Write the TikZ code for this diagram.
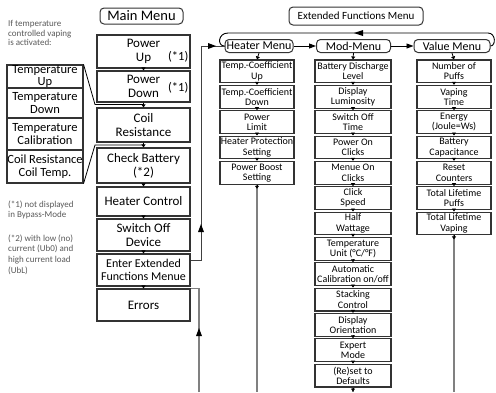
\documentclass[tikz,border=0pt]{standalone}
\usepackage{fontspec}
\setmainfont{Carlito}
\usetikzlibrary{arrows.meta}

\tikzset{
  tinytip/.tip={Triangle[length=3pt,width=4pt,color=black]},
  box/.style={draw=black!80, line width=1.1pt, inner sep=0pt, align=center},
  mainbox/.style={box, minimum width=93, font=\fontsize{13}{14}\selectfont},
  tempbox/.style={box, minimum width=76, font=\fontsize{12.5}{13}\selectfont},
  subbox/.style={box, minimum height=22.8, font=\fontsize{10}{10.3}\selectfont},
  menutitle/.style={draw=black!80, line width=1pt, rounded corners=4pt, inner sep=0pt},
  menuhead/.style={menutitle, minimum height=13, font=\fontsize{12}{13}\selectfont},
  note/.style={anchor=north west, inner sep=0pt, align=left, text=black!65, font=\fontsize{9}{10.6}\selectfont},
  nextarrow/.style={-tinytip, line width=0.8pt},
  headarrow/.style={-{Triangle[length=7pt,width=5pt]}, line width=0.9pt},
  templine/.style={line width=0.8pt},
  backline/.style={draw=black!50, line width=1.2pt},
  linkline/.style={draw=black!75, line width=1pt}
}

\begin{document}
\begin{tikzpicture}[x=1pt,y=-1pt]
  \pgfmathsetmacro{\mainx}{143.5}
  \pgfmathsetmacro{\tempx}{45}
  \pgfmathsetmacro{\heatx}{257}
  \pgfmathsetmacro{\modx}{353}
  \pgfmathsetmacro{\valx}{454}
  \pgfmathsetmacro{\firsty}{71.4}
  \pgfmathsetmacro{\pitch}{25.35}
  \pgfmathsetmacro{\heady}{46}
  \pgfmathsetmacro{\bottomy}{392}
  \useasboundingbox (0,0) rectangle (496,\bottomy);
  % titles
  \node[menutitle, minimum width=83, minimum height=16, font=\fontsize{14.5}{15}\selectfont] (mainmenu) at (141.5,16) {Main Menu};
  \node[menutitle, minimum width=134, minimum height=18, font=\fontsize{11}{12}\selectfont] (extmenu) at (356,16) {Extended Functions Menu};
  % notes
  \node[note, font=\fontsize{9}{9.7}\selectfont] (tempnote) at (8,20) {If temperature\\controlled vaping\\is activated:};
  \node[note] (noteone) at (8,200.5) {(*1) not displayed\\in Bypass-Mode};
  \node[note] (notetwo) at (8,234.5) {(*2) with low (no)\\current (Ub0) and\\high current load\\(UbL)};
  % main menu
  \node[mainbox, minimum height=33] (pu) at (\mainx,51.5) {Power\\Up};
  \node[mainbox, minimum height=31] (pd) at (\mainx,86.5) {Power\\Down};
  \node[mainbox, minimum height=34] (coil) at (\mainx,125) {Coil\\Resistance};
  \node[mainbox, minimum height=35] (check) at (\mainx,165.5) {Check Battery\\(*2)};
  \node[mainbox, minimum height=29] (heatc) at (\mainx,201.5) {Heater Control};
  \node[mainbox, minimum height=32] (swoff) at (\mainx,235) {Switch Off\\Device};
  \node[mainbox, minimum height=32, font=\fontsize{12}{13.5}\selectfont] (enter) at (\mainx,270) {Enter Extended\\Functions Menue};
  \node[mainbox, minimum height=32] (errors) at (\mainx,305) {Errors};
  \node[anchor=east, inner sep=0pt, font=\fontsize{12.5}{13}\selectfont] (putag) at ([xshift=-2pt,yshift=-5pt]pu.east) {(*1)};
  \node[anchor=east, inner sep=0pt, font=\fontsize{12.5}{13}\selectfont] (pdtag) at ([xshift=-2pt,yshift=-1.5pt]pd.east) {(*1)};
  \foreach \a/\b in {pu/pd, pd/coil, coil/check, check/heatc, heatc/swoff, swoff/enter, enter/errors}
    \draw[nextarrow] (\a.south) -- (\b.north);
  % temperature controlled
  \node[tempbox, minimum height=23, font=\fontsize{12.5}{12}\selectfont] (tu) at (\tempx,76.5) {Temperature\\Up};
  \node[tempbox, minimum height=30] (td) at (\tempx,103) {Temperature\\Down};
  \node[tempbox, minimum height=32] (tc) at (\tempx,134) {Temperature\\Calibration};
  \node[tempbox, minimum height=33] (cr) at (\tempx,166.5) {Coil Resistance\\Coil Temp.};
  \coordinate (tin) at (95,104.5);
  \coordinate (tout) at (95,145);
  \draw[templine] (tu.north east) -- (tin) -- (tin -| coil.north);
  \draw[templine] (cr.south east) -- (tout) -- (tout -| check.north);
  % extended functions
  \node[menuhead, minimum width=68] (heater) at (259,\heady) {Heater Menu};
  \node[menuhead, minimum width=74] (modmenu) at (353.5,\heady) {Mod-Menu};
  \node[menuhead, minimum width=76] (valmenu) at (452,\heady) {Value Menu};
  \draw[headarrow] (heater) -- (modmenu);
  \draw[headarrow] (modmenu) -- (valmenu);
  \foreach \txt [count=\i] in {{Temp.-Coefficient\\Up}, {Temp.-Coefficient\\Down}, {Power\\Limit},
      {Heater Protection\\Setting}, {Power Boost\\Setting}}
    \node[subbox, minimum width=74] (heat\i) at (\heatx,{\firsty+(\i-1)*\pitch}) {\txt};
  \foreach \txt [count=\i] in {{Battery Discharge\\Level}, {Display\\Luminosity}, {Switch Off\\Time},
      {Power On\\Clicks}, {Menue On\\Clicks}, {Click\\Speed}, {Half\\Wattage}, {Temperature\\Unit (°C/°F)},
      {Automatic\\Calibration on/off}, {Stacking\\Control}, {Display\\Orientation}, {Expert\\Mode},
      {(Re)set to\\Defaults}}
    \node[subbox, minimum width=76] (mod\i) at (\modx,{\firsty+(\i-1)*\pitch}) {\txt};
  \foreach \txt [count=\i] in {{Number of\\Puffs}, {Vaping\\Time}, {Energy\\(Joule=Ws)}, {Battery\\Capacitance},
      {Reset\\Counters}, {Total Lifetime\\Puffs}, {Total Lifetime\\Vaping}}
    \node[subbox, minimum width=74] (val\i) at (\valx,{\firsty+(\i-1)*\pitch}) {\txt};
  \draw[nextarrow] (heater.south) -- (heat1.north);
  \draw[nextarrow] (modmenu.south) -- (mod1.north);
  \draw[nextarrow] (valmenu.south) -- (val1.north);
  \foreach \i in {2,...,5}{\pgfmathtruncatemacro{\j}{\i-1}\draw[nextarrow] (heat\j.south) -- (heat\i.north);}
  \foreach \i in {2,...,13}{\pgfmathtruncatemacro{\j}{\i-1}\draw[nextarrow] (mod\j.south) -- (mod\i.north);}
  \foreach \i in {2,...,7}{\pgfmathtruncatemacro{\j}{\i-1}\draw[nextarrow] (val\j.south) -- (val\i.north);}
  % loop back
  \coordinate (loopmid) at (354,33);
  \draw[line width=0.9pt] (valmenu.east) .. controls (496,\heady) and (496,33) .. (488,33)
    -- (228,33) .. controls (218,33) and (217,\heady) .. (heater.west);
  \fill (loopmid) -- ++(9,-3) -- ++(0,6) -- cycle;
  % links to the bottom
  \coordinate (heatend) at (\heatx,\bottomy);
  \coordinate (modend) at (\modx,\bottomy);
  \coordinate (valend) at (\valx,\bottomy);
  \coordinate (retend) at (199,\bottomy);
  \coordinate (retmid) at (199,328);
  \foreach \n/\e in {heat5/heatend, mod13/modend, val7/valend}{
    \draw[backline] (\n.south) -- (\e);
    \draw[nextarrow] (\n.south) -- ([yshift=-4pt]\n.south);
  }
  \draw[backline] (retend) |- (errors.north east);
  \fill (retmid) -- ++(-3,8) -- ++(6,0) -- cycle;
  % into the extended functions
  \coordinate (entermid) at (201,224);
  \coordinate (heatin) at (216,\heady);
  \draw[linkline] ([yshift=10pt]enter.east) -- ++(11,0) |- (heater.west);
  \fill (entermid) -- ++(-3,8) -- ++(6,0) -- cycle;
  \fill (heatin) -- ++(-8,-3) -- ++(0,6) -- cycle;
\end{tikzpicture}
\end{document}
